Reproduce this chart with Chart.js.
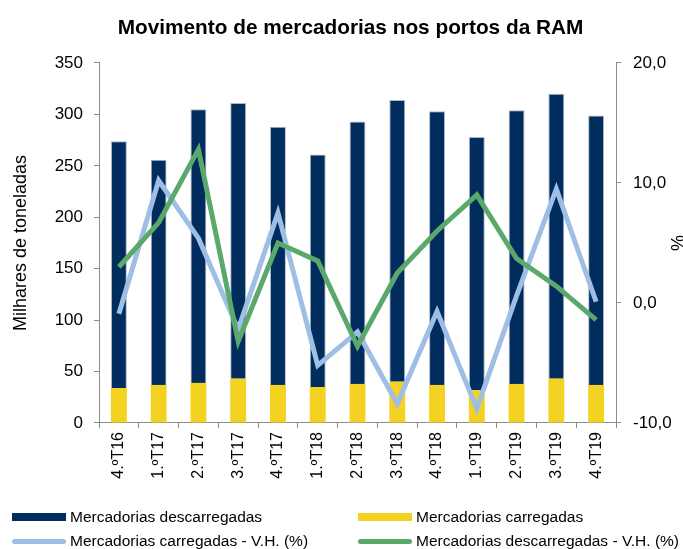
<!DOCTYPE html>
<html>
<head>
<meta charset="utf-8">
<script src="https://cdn.jsdelivr.net/npm/chart.js@4.4.0/dist/chart.umd.min.js"></script>
<style>
  body { margin: 0; background: #fff; }
  #wrap { position: relative; width: 683px; height: 549px; }
  #legend { font-family: "Liberation Sans", Arial, sans-serif; font-size: 15.5px; color: #000; }
  .item { position: absolute; display: flex; align-items: center; white-space: nowrap; height: 18px; }
  .sw { display: inline-block; width: 54px; margin-right: 4px; }
</style>
</head>
<body>
<div id="wrap">
  <canvas id="chart" width="683" height="549"></canvas>
  <div id="legend"></div>
</div>
<script>
const quarters = ["4.ºT16", "1.ºT17", "2.ºT17", "3.ºT17", "4.ºT17", "1.ºT18", "2.ºT18",
  "3.ºT18", "4.ºT18", "1.ºT19", "2.ºT19", "3.ºT19", "4.ºT19"];
// milhares de toneladas
const unloaded = [240, 219, 266, 268, 251, 226, 255, 274, 266, 246, 266, 277, 262];
const loaded = [34, 37, 39, 43, 37, 35, 38, 40, 37, 32, 38, 43, 37];
// variação homóloga (%)
const loadedYoY = [-0.9, 10.2, 5.4, -2.2, 7.5, -5.2, -2.4, -8.4, -0.7, -8.8, 0.6, 9.5, 0.1];
const unloadedYoY = [3.0, 6.7, 12.8, -3.2, 5.0, 3.5, -3.6, 2.5, 6.0, 9.0, 3.7, 1.4, -1.4];

const FONT = "'Liberation Sans', Arial, sans-serif";
const AXIS_GREY = "#8c8c8c";

const datasets = [
  {
    type: "bar",
    label: "Mercadorias carregadas",
    data: loaded,
    backgroundColor: "#F4D222",
    yAxisID: "y",
    stack: "s",
    order: 2,
  },
  {
    type: "bar",
    label: "Mercadorias descarregadas",
    data: unloaded,
    backgroundColor: "#012C5E",
    borderColor: "#aeb7c6",
    borderWidth: { top: 1, left: 1, right: 1, bottom: 0 },
    yAxisID: "y",
    stack: "s",
    order: 2,
  },
  {
    type: "line",
    label: "Mercadorias carregadas - V.H. (%)",
    data: loadedYoY,
    borderColor: "#9EBEE5",
    borderWidth: 5,
    pointRadius: 0,
    tension: 0,
    yAxisID: "y2",
    order: 1,
  },
  {
    type: "line",
    label: "Mercadorias descarregadas - V.H. (%)",
    data: unloadedYoY,
    borderColor: "#5AA96B",
    borderWidth: 5,
    pointRadius: 0,
    tension: 0,
    yAxisID: "y2",
    order: 0,
  },
];

const ctx = document.getElementById("chart").getContext("2d");
new Chart(ctx, {
  data: { labels: quarters, datasets: datasets },
  options: {
    responsive: false,
    animation: false,
    layout: { padding: { left: 18, right: 0, top: 0, bottom: 51 } },
    datasets: { bar: { barPercentage: 0.4, categoryPercentage: 1.0 } },
    plugins: {
      legend: { display: false },
      tooltip: { enabled: false },
      title: {
        display: true,
        text: "Movimento de mercadorias nos portos da RAM",
        color: "#000",
        font: { family: FONT, size: 20.8, weight: "bold" },
        padding: { top: 16, bottom: 22 },
      },
    },
    scales: {
      x: {
        stacked: true,
        afterFit: (s) => { s.height = 75; },
        border: { color: AXIS_GREY },
        grid: { offset: true, drawOnChartArea: false, tickLength: 5, color: AXIS_GREY },
        ticks: {
          color: "#000",
          font: { family: FONT, size: 16 },
          minRotation: 90,
          maxRotation: 90,
          padding: 4,
          autoSkip: false,
        },
      },
      y: {
        position: "left",
        stacked: true,
        min: 0,
        max: 350,
        afterFit: (s) => { s.width = 81; },
        border: { color: AXIS_GREY },
        grid: { drawOnChartArea: false, tickLength: 5, color: AXIS_GREY },
        ticks: { stepSize: 50, color: "#000", font: { family: FONT, size: 17 }, padding: 11 },
        title: {
          display: true,
          text: "Milhares de toneladas",
          color: "#000",
          font: { family: FONT, size: 18, lineHeight: 1 },
          padding: { top: -6, bottom: 0 },
        },
      },
      y2: {
        position: "right",
        min: -10,
        max: 20,
        afterFit: (s) => { s.width = 67; },
        border: { color: AXIS_GREY },
        grid: { drawOnChartArea: false, tickLength: 5, color: AXIS_GREY },
        ticks: {
          stepSize: 10,
          color: "#000",
          font: { family: FONT, size: 17 },
          padding: 12,
          callback: (v) => v.toFixed(1).replace(".", ","),
        },
        title: {
          display: true,
          text: "%",
          color: "#000",
          font: { family: FONT, size: 18, lineHeight: 1 },
          padding: { top: -2, bottom: 0 },
        },
      },
    },
  },
});

// legenda em duas colunas, como no original
const legendItems = [
  { ds: 1, kind: "bar", left: 12, top: 508 },
  { ds: 0, kind: "bar", left: 358, top: 508 },
  { ds: 2, kind: "line", left: 12, top: 532 },
  { ds: 3, kind: "line", left: 358, top: 532 },
];
const legendEl = document.getElementById("legend");
legendItems.forEach((it) => {
  const ds = datasets[it.ds];
  const color = ds.type === "bar" ? ds.backgroundColor : ds.borderColor;
  const h = it.kind === "bar" ? 8 : 5;
  const radius = it.kind === "bar" ? 0 : 3;
  const el = document.createElement("div");
  el.className = "item";
  el.style.left = it.left + "px";
  el.style.top = it.top + "px";
  el.innerHTML = `<span class="sw" style="height:${h}px;background:${color};border-radius:${radius}px"></span>${ds.label}`;
  legendEl.appendChild(el);
});
</script>
</body>
</html>
